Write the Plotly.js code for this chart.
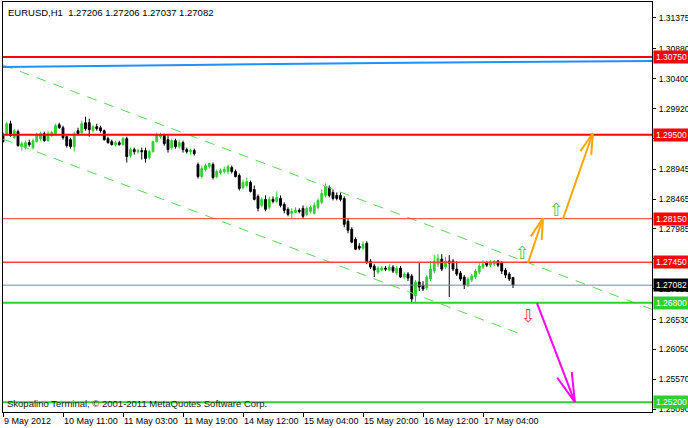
<!DOCTYPE html>
<html><head><meta charset="utf-8">
<script src="https://cdn.plot.ly/plotly-3.0.1.min.js"></script>
<style>html,body{margin:0;padding:0;background:#fff}#chart{width:688px;height:428px}</style>
</head><body><div id="chart"></div>
<script>
// ---- data (EURUSD H1) ----
const openP = [1.29500,1.29500,1.29676,1.29452,1.29548,1.29308,1.29292,1.29372,1.29292,1.29388,
1.29436,1.29516,1.29404,1.29484,1.29516,1.29660,1.29612,1.29468,1.29420,1.29308,
1.29564,1.29532,1.29692,1.29692,1.29564,1.29628,1.29612,1.29564,1.29436,1.29388,
1.29340,1.29372,1.29340,1.29436,1.29164,1.29260,1.29228,1.29244,1.29244,1.29132,
1.29228,1.29388,1.29468,1.29484,1.29420,1.29292,1.29404,1.29308,1.29372,1.29260,
1.29228,1.29244,1.29020,1.28828,1.28940,1.28988,1.29020,1.28828,1.28892,1.28908,
1.28908,1.28972,1.28908,1.28844,1.28652,1.28684,1.28732,1.28620,1.28508,1.28364,
1.28460,1.28332,1.28460,1.28428,1.28476,1.28380,1.28300,1.28236,1.28252,1.28284,
1.28316,1.28220,1.28268,1.28236,1.28332,1.28412,1.28524,1.28652,1.28572,1.28524,
1.28524,1.28476,1.28108,1.27980,1.27820,1.27708,1.27676,1.27756,1.27468,1.27388,
1.27292,1.27324,1.27356,1.27324,1.27372,1.27276,1.27356,1.27212,1.27260,1.27228,
1.26908,1.27132,1.27084,1.27036,1.27180,1.27308,1.27420,1.27500,1.27372,1.27468,
1.27468,1.27340,1.27276,1.27212,1.27084,1.27164,1.27212,1.27292,1.27372,1.27436,
1.27404,1.27420,1.27468,1.27436,1.27324,1.27260,1.27206];
const highP = [1.29532,1.29708,1.29724,1.29596,1.29580,1.29388,1.29404,1.29420,1.29436,1.29532,
1.29548,1.29548,1.29564,1.29564,1.29676,1.29692,1.29644,1.29484,1.29452,1.29548,
1.29612,1.29724,1.29788,1.29756,1.29660,1.29676,1.29644,1.29580,1.29468,1.29420,
1.29404,1.29404,1.29468,1.29468,1.29292,1.29292,1.29276,1.29292,1.29292,1.29260,
1.29404,1.29532,1.29532,1.29516,1.29484,1.29436,1.29436,1.29420,1.29404,1.29292,
1.29276,1.29276,1.29052,1.29004,1.29036,1.29052,1.29052,1.28940,1.28956,1.28988,
1.29020,1.29004,1.28940,1.28876,1.28780,1.28812,1.28764,1.28684,1.28540,1.28492,
1.28524,1.28508,1.28508,1.28588,1.28524,1.28412,1.28332,1.28316,1.28332,1.28316,
1.28364,1.28348,1.28364,1.28412,1.28476,1.28620,1.28716,1.28684,1.28620,1.28572,
1.28572,1.28508,1.28156,1.28012,1.27852,1.27756,1.27788,1.27788,1.27500,1.27420,
1.27388,1.27388,1.27388,1.27420,1.27404,1.27388,1.27388,1.27292,1.27292,1.27260,
1.27164,1.27436,1.27148,1.27244,1.27468,1.27564,1.27580,1.27580,1.27532,1.27564,
1.27500,1.27468,1.27308,1.27244,1.27212,1.27260,1.27340,1.27436,1.27484,1.27468,
1.27484,1.27484,1.27484,1.27468,1.27356,1.27292,1.27206];
const lowP = [1.29372,1.29484,1.29468,1.29436,1.29308,1.29244,1.29260,1.29308,1.29260,1.29372,
1.29404,1.29388,1.29388,1.29468,1.29500,1.29596,1.29420,1.29292,1.29276,1.29228,
1.29500,1.29516,1.29564,1.29468,1.29532,1.29564,1.29532,1.29404,1.29356,1.29324,
1.29308,1.29324,1.29324,1.29052,1.29132,1.29180,1.29196,1.29100,1.29052,1.29100,
1.29212,1.29372,1.29436,1.29324,1.29212,1.29260,1.29276,1.29276,1.29212,1.29196,
1.29180,1.29164,1.28796,1.28796,1.28908,1.28956,1.28780,1.28796,1.28860,1.28876,
1.28860,1.28876,1.28812,1.28604,1.28620,1.28652,1.28572,1.28444,1.28268,1.28332,
1.28268,1.28300,1.28396,1.28396,1.28332,1.28236,1.28188,1.28156,1.28236,1.28236,
1.28156,1.28188,1.28236,1.28220,1.28300,1.28380,1.28492,1.28492,1.28444,1.28444,
1.28428,1.28012,1.27916,1.27756,1.27644,1.27644,1.27644,1.27420,1.27340,1.27212,
1.27260,1.27308,1.27308,1.27308,1.27276,1.27244,1.27196,1.27180,1.27148,1.26812,
1.26812,1.26988,1.26988,1.27004,1.27148,1.27276,1.27372,1.27308,1.27340,1.26892,
1.27308,1.27228,1.27148,1.27020,1.27052,1.27132,1.27180,1.27260,1.27340,1.27372,
1.27372,1.27388,1.27372,1.27260,1.27196,1.27148,1.27037];
const closeP = [1.29388,1.29676,1.29484,1.29564,1.29324,1.29356,1.29372,1.29340,1.29404,1.29484,
1.29516,1.29404,1.29516,1.29532,1.29644,1.29612,1.29452,1.29324,1.29308,1.29516,
1.29516,1.29676,1.29596,1.29580,1.29628,1.29596,1.29564,1.29420,1.29372,1.29340,
1.29372,1.29340,1.29436,1.29148,1.29260,1.29228,1.29244,1.29228,1.29116,1.29228,
1.29388,1.29484,1.29500,1.29356,1.29260,1.29404,1.29308,1.29372,1.29260,1.29228,
1.29244,1.29196,1.28828,1.28956,1.29004,1.29036,1.28812,1.28908,1.28924,1.28940,
1.28988,1.28908,1.28828,1.28636,1.28732,1.28748,1.28588,1.28460,1.28316,1.28460,
1.28300,1.28460,1.28428,1.28492,1.28364,1.28284,1.28220,1.28268,1.28284,1.28268,
1.28188,1.28316,1.28332,1.28364,1.28444,1.28556,1.28668,1.28524,1.28476,1.28476,
1.28460,1.28060,1.27964,1.27772,1.27660,1.27676,1.27740,1.27452,1.27372,1.27324,
1.27356,1.27356,1.27340,1.27372,1.27308,1.27356,1.27212,1.27260,1.27196,1.26860,
1.27132,1.27052,1.27020,1.27212,1.27340,1.27468,1.27516,1.27340,1.27468,1.27436,
1.27340,1.27260,1.27180,1.27084,1.27180,1.27228,1.27308,1.27388,1.27420,1.27404,
1.27452,1.27468,1.27404,1.27308,1.27244,1.27180,1.27082];

const xTickIdx = [0,16,32,48,64,80,96,112,128];
const xTickLabels = ['9 May 2012','10 May 11:00','11 May 03:00','11 May 19:00','14 May 12:00','15 May 04:00','15 May 20:00','16 May 12:00','17 May 04:00'];
const yTickVals = [1.31375,1.30880,1.30400,1.29920,1.29440,1.28945,1.28465,1.27985,1.27505,1.27025,1.26530,1.26050,1.25570,1.25090];

const redLevels = [1.3075, 1.2950, 1.2815, 1.2745];
const greenLevels = [1.2680, 1.2520];
const bidLevel = 1.27082;

const blueIdx = [0, 50, 100, 174];
const blueVal = [1.30588, 1.30620, 1.30652, 1.30684];

const upperChIdx = [0, 173.1];
const upperChVal = [1.30620, 1.26692];
const lowerChIdx = [0, 138.8];
const lowerChVal = [1.29429, 1.26280];

// forecast arrows: [tailIdx, tailPrice, tipIdx, tipPrice]
const orangeArrow1 = [140.0, 1.27438, 144.0, 1.28161];
const orangeArrow2 = [149.3, 1.28145, 157.3, 1.29527];
const pinkArrow    = [142.4, 1.26795, 152.5, 1.25204];

// signal icons
const upSignalIdx = [138.4, 147.5];
const upSignalVal = [1.27599, 1.28290];
const downSignalIdx = [140.0];
const downSignalVal = [1.26602];

const copyright = 'Skopalino Terminal, \u00a9 2001-2011 MetaQuotes Software Corp.';
const symbolLabel = 'EURUSD,H1';

// ---- layout constants ----
const M = {l:3, r:36, t:2, b:16};
const W = 688 - M.l - M.r, H = 428 - M.t - M.b;
const xr = [0, W/3.75];
const yr = [1.25044, 1.31632];
const kx = W/(xr[1]-xr[0]), ky = H/(yr[1]-yr[0]);

const idx = openP.map((_, i) => i);
const last = openP.length - 1;
const FONT = 'Liberation Sans, Arial, sans-serif';
const GREEN = '#32CD32';

const traces = [
  {type:'scatter', mode:'lines', x: upperChIdx, y: upperChVal, line:{color:'rgb(90,215,90)', width:1, dash:'10px,8px'}, hoverinfo:'skip'},
  {type:'scatter', mode:'lines', x: lowerChIdx, y: lowerChVal, line:{color:'rgb(90,215,90)', width:1, dash:'10px,8px'}, hoverinfo:'skip'},
  {type:'scatter', mode:'lines', x: blueIdx, y: blueVal, line:{color:'#1E90FF', width:2, shape:'spline'}, hoverinfo:'skip'},
  {type:'candlestick', x: idx, open: openP, high: highP, low: lowP, close: closeP,
   increasing:{line:{color:GREEN, width:1}, fillcolor:GREEN},
   decreasing:{line:{color:'#000', width:1}, fillcolor:'#000'},
   whiskerwidth:0, hoverinfo:'skip'}
];

const shapes = [];
const hline = (y, color, width) => shapes.push({type:'line', xref:'paper', x0:0, x1:1, yref:'y', y0:y, y1:y, line:{color, width}, layer:'above'});
hline(redLevels[0], '#FF0000', 2);
hline(redLevels[1], '#FF0000', 2);
hline(redLevels[2], '#FF3030', 1);
hline(redLevels[3], '#FF4040', 1.5);
hline(bidLevel, '#778899', 1);
hline(greenLevels[0], GREEN, 2);
hline(greenLevels[1], GREEN, 2);

function arrow(a, color, len) {
  const [ti, tp, hi, hp] = a;
  shapes.push({type:'line', xref:'x', yref:'y', x0:ti, y0:tp, x1:hi, y1:hp, line:{color, width:2}, layer:'above'});
  let vx = (ti-hi)*kx, vy = -(tp-hp)*ky;
  const n = Math.hypot(vx, vy); vx/=n; vy/=n;
  [15, -15].forEach(d => {
    const r = d*Math.PI/180, c = Math.cos(r), s = Math.sin(r);
    const rx = (vx*c - vy*s)*len, ry = (vx*s + vy*c)*len;
    shapes.push({type:'line', xref:'x', yref:'y', x0:hi, y0:hp, x1:hi + rx/kx, y1:hp - ry/ky, line:{color, width:2}, layer:'above'});
  });
}
arrow(orangeArrow1, '#FFA500', 22);
arrow(orangeArrow2, '#FFA500', 22);
arrow(pinkArrow, '#FF00FF', 30);

const annotations = [];
const box = (y, bg) => annotations.push({xref:'paper', x:1, xanchor:'left', xshift:1, yref:'y', y, yanchor:'middle',
  text: y.toFixed(5), showarrow:false, bgcolor:bg, borderpad:1, width:33, align:'center',
  font:{family:FONT, size:8.5, color:'#fff'}});
box(redLevels[0], '#FF0000');
box(redLevels[1], '#FF0000');
box(redLevels[2], '#FF0000');
box(redLevels[3], '#FF0000');
box(bidLevel, '#000000');
box(greenLevels[0], GREEN);
box(greenLevels[1], GREEN);

annotations.push({xref:'paper', yref:'paper', x:0, y:1, xanchor:'left', yanchor:'top', xshift:3, yshift:-3, showarrow:false,
  text: symbolLabel + '  ' + [openP[last], highP[last], lowP[last], closeP[last]].map(v => v.toFixed(5)).join(' '),
  font:{family:FONT, size:9.5, color:'#000'}});
annotations.push({xref:'paper', yref:'paper', x:0, y:0, xanchor:'left', yanchor:'bottom', xshift:2, yshift:1, showarrow:false,
  text: copyright, font:{family:FONT, size:9.5, color:'#222'}});

upSignalIdx.forEach((x, i) => annotations.push({xref:'x', yref:'y', x, y: upSignalVal[i], text:'\u21E7', showarrow:false,
  font:{family:'DejaVu Sans', size:18, color:'rgb(80,200,80)'}}));
downSignalIdx.forEach((x, i) => annotations.push({xref:'x', yref:'y', x, y: downSignalVal[i], text:'\u21E9', showarrow:false,
  font:{family:'DejaVu Sans', size:18, color:'rgb(255,70,70)'}}));

const axisCommon = {showline:true, mirror:true, linecolor:'#000', linewidth:1, showgrid:false, zeroline:false,
  ticks:'outside', tickcolor:'#000', tickwidth:1, fixedrange:true};

const layout = {
  width:688, height:428, margin:{l:M.l, r:M.r, t:M.t, b:M.b, pad:0},
  paper_bgcolor:'#fff', plot_bgcolor:'#fff', showlegend:false,
  xaxis: Object.assign({}, axisCommon, {type:'linear', range:xr, tickmode:'array', tickvals:xTickIdx, ticktext:xTickLabels,
    ticklen:4, tickangle:0, ticklabelposition:'outside right', ticklabelstandoff:0, rangeslider:{visible:false},
    tickfont:{family:FONT, size:9, color:'#000'}}),
  yaxis: Object.assign({}, axisCommon, {range:yr, side:'right', tickmode:'array', tickvals:yTickVals,
    ticktext: yTickVals.map(v => v.toFixed(5)), ticklen:3, ticklabelstandoff:1,
    tickfont:{family:FONT, size:8.5, color:'#000'}}),
  shapes, annotations
};

Plotly.newPlot('chart', traces, layout, {displayModeBar:false, staticPlot:true});
</script></body></html>
